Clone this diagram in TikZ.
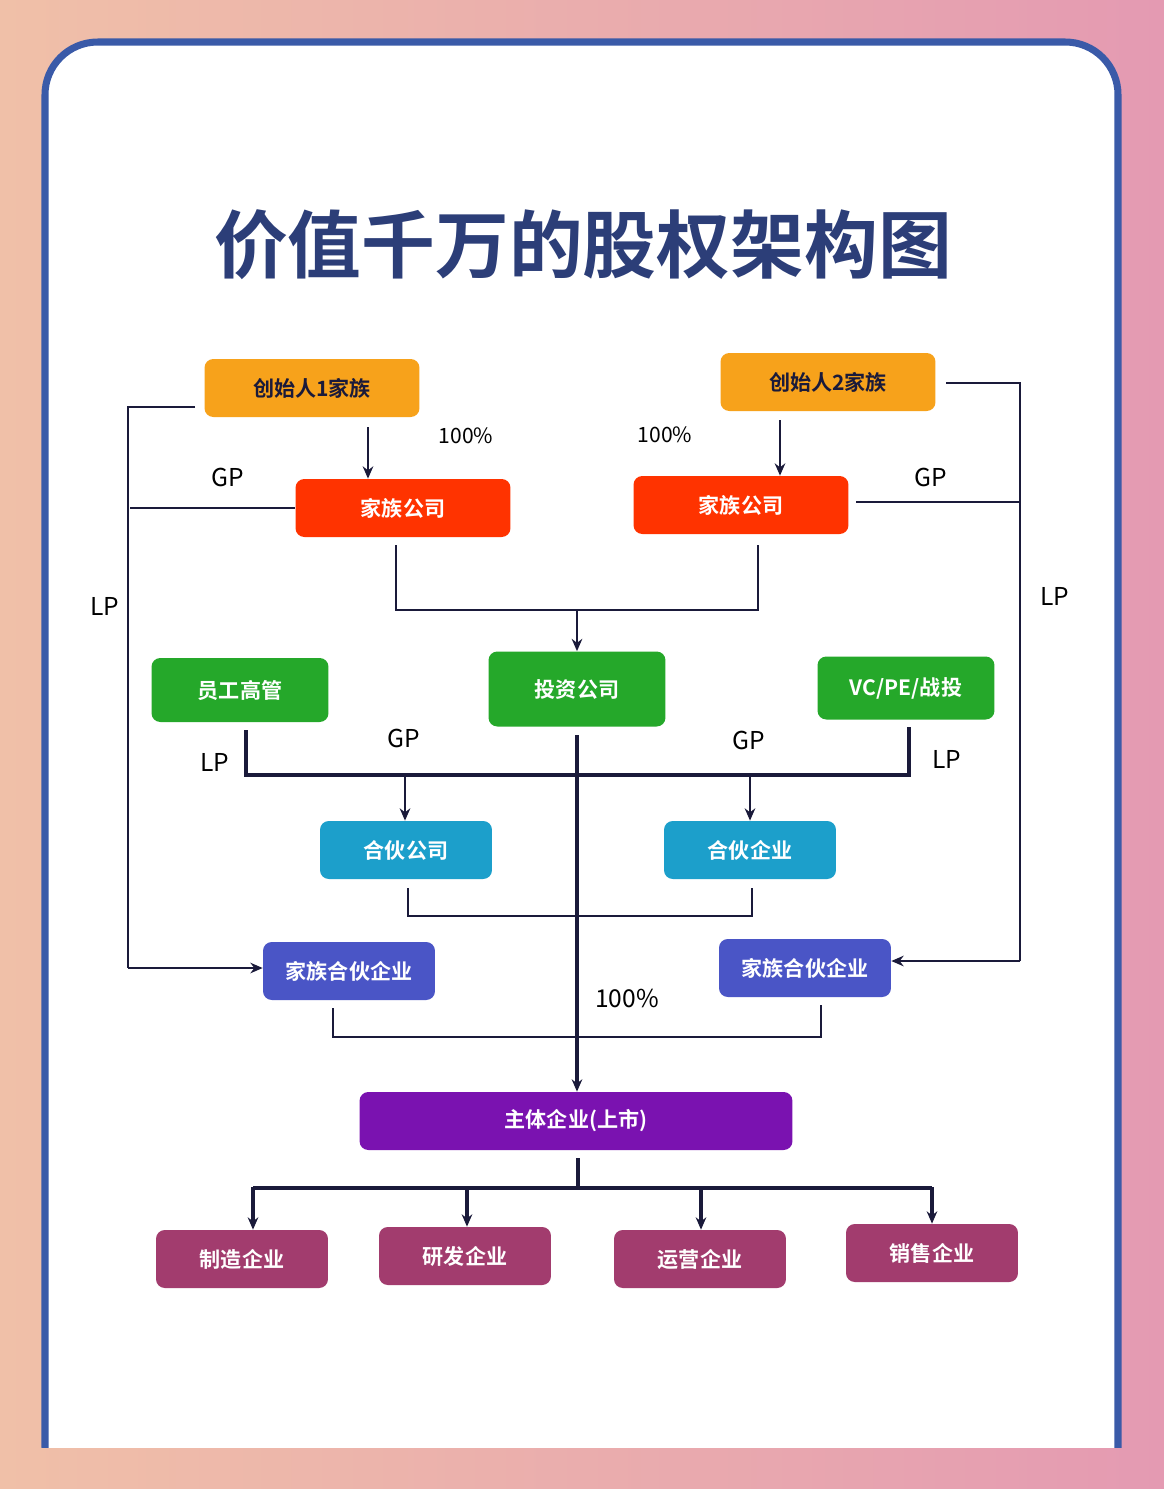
\documentclass[tikz,border=0pt]{standalone}
\usepackage{fontspec}
\setmainfont{Noto Sans CJK SC}
\newfontfamily\cjkb{Noto Sans CJK SC Bold}
\usetikzlibrary{arrows.meta}
\definecolor{tblue}{HTML}{2C3E78}
\definecolor{frameblue}{HTML}{3A5AA8}
\definecolor{bgl}{HTML}{F0C0A8}
\definecolor{bgr}{HTML}{E49AB2}
\definecolor{cor}{HTML}{F7A21B}
\definecolor{cred}{HTML}{FF3300}
\definecolor{cgreen}{HTML}{25A82A}
\definecolor{cteal}{HTML}{1C9FCB}
\definecolor{cind}{HTML}{4A55C6}
\definecolor{cpur}{HTML}{7A12B0}
\definecolor{cmag}{HTML}{A23C6E}
\definecolor{lc}{HTML}{1A1A3A}
\tikzset{
 box/.style={rounded corners=5pt,minimum height=1.16cm,font=\cjkb\fontsize{12}{14}\selectfont,text=white,inner sep=2pt},
 w172/.style={minimum width=3.44cm},
 w215/.style={minimum width=4.3cm},
 w177/.style={minimum width=3.54cm},
 ln/.style={draw=lc,line width=1.3pt},
 tk/.style={draw=lc,line width=2.2pt},
 arr/.style={-{Stealth[length=7pt,width=6pt]}},
 lab/.style={font=\fontsize{14}{16}\selectfont,text=black},
 pct/.style={font=\fontsize{12}{14}\selectfont,text=black},
}
\begin{document}
\begin{tikzpicture}[x=0.02cm,y=-0.02cm]
\useasboundingbox (0,0) rectangle (1164,1489);
\shade[left color=bgl,right color=bgr] (0,0) rectangle (1164,1489);
\fill[white,draw=frameblue,line width=4pt,rounded corners=30pt] (45,42) rectangle (1118,1500);
\shade[left color=bgl,right color=bgr] (0,1448) rectangle (1164,1489);
\node[text=tblue,font=\cjkb\fontsize{42}{48}\selectfont] (title) at (583,245) {价值千万的股权架构图};

\node[box,w215,fill=cor,text=lc] (f1) at (312,388) {创始人1家族};
\node[box,w215,fill=cor,text=lc] (f2) at (828,382) {创始人2家族};
\node[box,w215,fill=cred] (c1) at (403,508) {家族公司};
\node[box,w215,fill=cred] (c2) at (741,505) {家族公司};
\node[box,w177,fill=cgreen,minimum height=1.5cm] (inv) at (577,689) {投资公司};
\node[box,w177,fill=cgreen,minimum height=1.28cm] (emp) at (240,690) {员工高管};
\node[box,w177,fill=cgreen,minimum height=1.26cm] (vc) at (906,688) {VC/PE/战投};
\node[box,w172,fill=cteal] (p1) at (406,850) {合伙公司};
\node[box,w172,fill=cteal] (p2) at (750,850) {合伙企业};
\node[box,w172,fill=cind] (fp1) at (349,971) {家族合伙企业};
\node[box,w172,fill=cind] (fp2) at (805,968) {家族合伙企业};
\node[box,minimum width=8.66cm,fill=cpur] (main) at (576,1121) {主体企业(上市)};
\node[box,w172,fill=cmag] (s1) at (242,1259) {制造企业};
\node[box,w172,fill=cmag] (s2) at (465,1256) {研发企业};
\node[box,w172,fill=cmag] (s3) at (700,1259) {运营企业};
\node[box,w172,fill=cmag] (s4) at (932,1253) {销售企业};

% founders to family companies
\coordinate (a1) at (368,427);
\coordinate (a2) at (780,420);
\draw[ln,arr] (a1) -- (a1 |- c1.north);
\draw[ln,arr] (a2) -- (a2 |- c2.north);
\node[pct] (pa) at (466,436) {100\%};
\node[pct] (pb) at (665,435) {100\%};
% left LP/GP
\coordinate (l1) at (195,407);
\coordinate (l2) at (128,407);
\coordinate (l3) at (128,968);
\coordinate (l4) at (130,508);
\draw[ln] (l1) -- (l2) -- (l3);
\draw[ln,arr] (l3) -- (l3 -| fp1.west);
\draw[ln] (l4) -- (l4 -| c1.west);
\node[lab] (gp1) at (228,477) {GP};
\node[lab] (lp1) at (105,606) {LP};
% right
\coordinate (r1) at (946,383);
\coordinate (r2) at (1020,383);
\coordinate (r3) at (1020,961);
\coordinate (r4) at (1020,502);
\draw[ln] (r1) -- (r2) -- (r3);
\draw[ln,arr] (r3) -- (r3 -| fp2.east);
\draw[ln] (r4) -- ([xshift=4pt]r4 -| c2.east);
\node[lab] (gp2) at (931,477) {GP};
\node[lab] (lp2) at (1055,596) {LP};
% family companies to investment
\coordinate (m1) at (577,610);
\draw[ln] (396,545) -- (396,610) -- (758,610) -- (758,545);
\draw[ln,arr] (m1) -- (m1 |- inv.north);
% investment to main
\coordinate (m2) at (577,735);
\draw[tk,arr] (m2) -- (m2 |- main.north);
% bar
\draw[tk] (246,730) -- (246,775) -- (909,775) -- (909,727);
\coordinate (b1) at (405,775);
\coordinate (b2) at (750,775);
\draw[ln,arr] (b1) -- (b1 |- p1.north);
\draw[ln,arr] (b2) -- (b2 |- p2.north);
\node[lab] (gp3) at (404,738) {GP};
\node[lab] (gp4) at (749,740) {GP};
\node[lab] (lp3) at (215,762) {LP};
\node[lab] (lp4) at (947,759) {LP};
% partners joined
\draw[ln] (408,888) -- (408,916) -- (752,916) -- (752,888);
% family partners joined
\draw[ln] (333,1008) -- (333,1037) -- (821,1037) -- (821,1005);
\node[lab] (pc) at (627,998) {100\%};
% main to subs
\draw[tk] (578,1158) -- (578,1188);
\draw[tk] (253,1188) -- (932,1188);
\coordinate (d1) at (253,1187);
\coordinate (d2) at (467,1187);
\coordinate (d3) at (701,1187);
\coordinate (d4) at (932,1187);
\draw[tk,arr] (d1) -- (d1 |- s1.north);
\draw[tk,arr] (d2) -- (d2 |- s2.north);
\draw[tk,arr] (d3) -- (d3 |- s3.north);
\draw[tk,arr] (d4) -- (d4 |- s4.north);
\end{tikzpicture}
\end{document}
